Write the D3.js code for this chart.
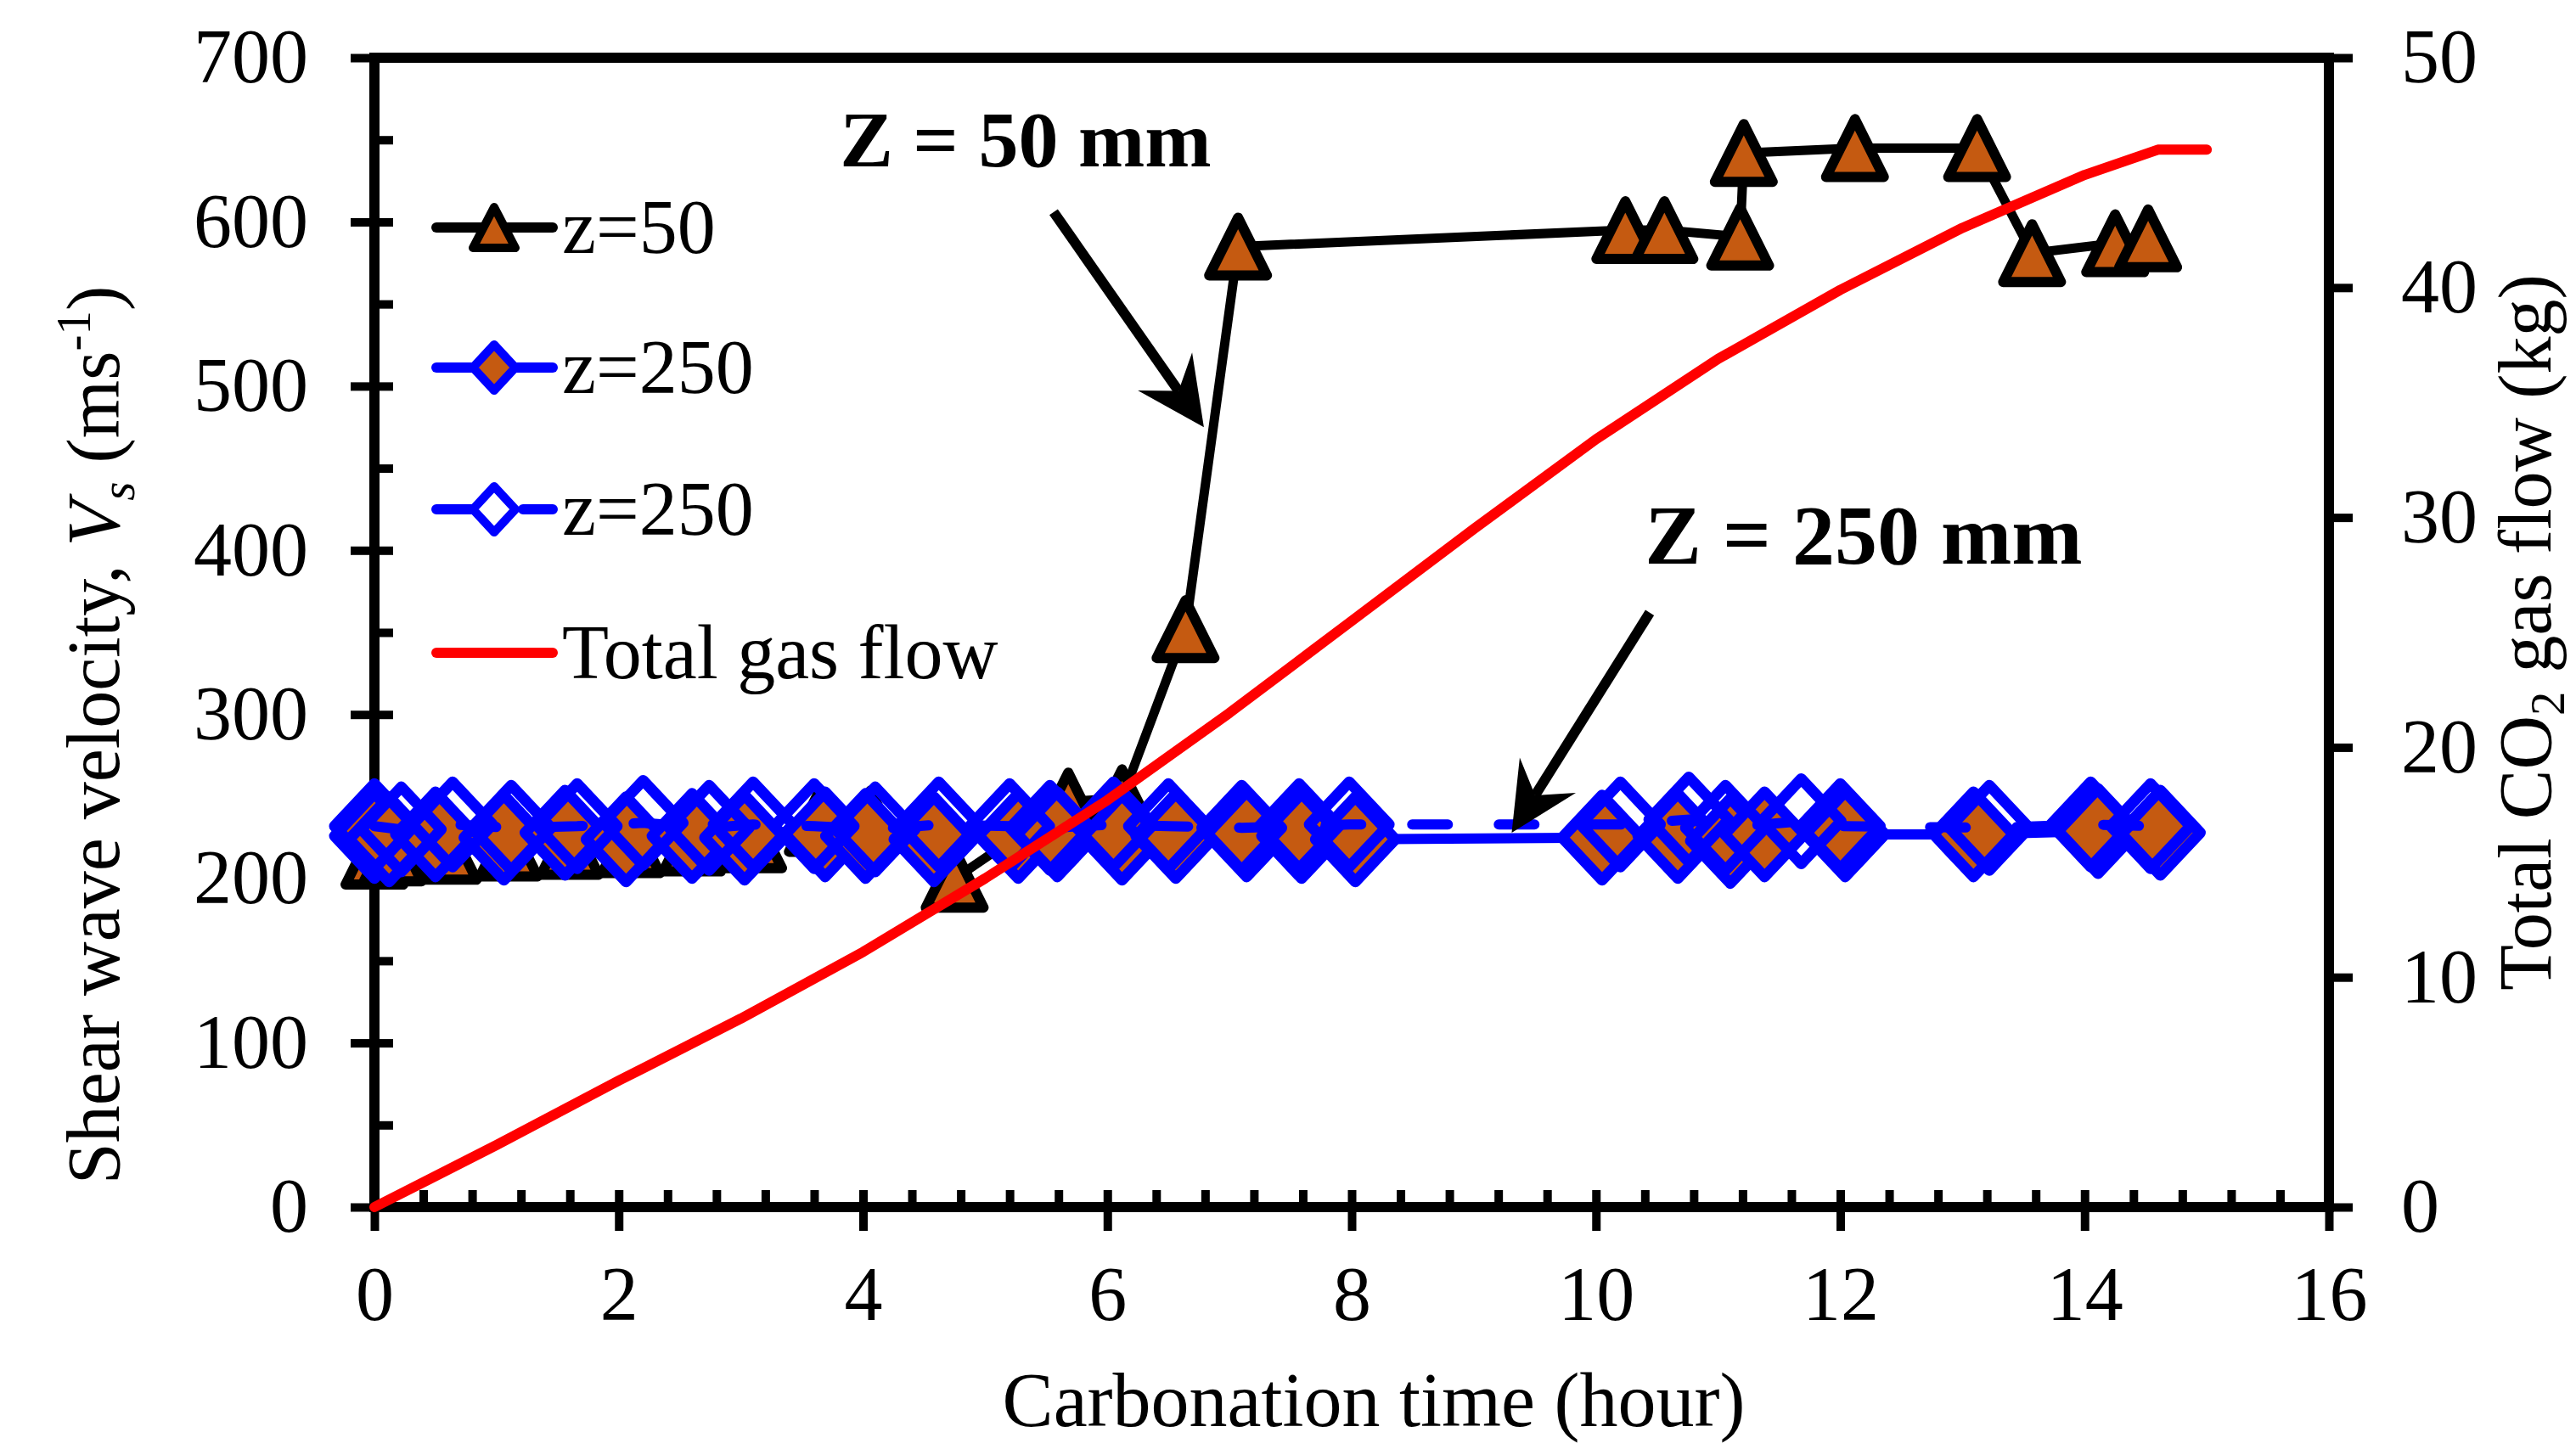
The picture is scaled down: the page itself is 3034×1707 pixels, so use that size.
<!DOCTYPE html>
<html>
<head>
<meta charset="utf-8">
<script src="https://cdnjs.cloudflare.com/ajax/libs/d3/7.8.5/d3.min.js"></script>
<style>
  body { margin: 0; background: #fff; }
  svg { display: block; font-family: "Liberation Serif", "Times New Roman", serif; }
</style>
</head>
<body>
<div class="container"></div>
<script>
// z = 50 mm (triangles)
let z50Time = [0, 0.15, 0.6, 1.1, 1.6, 2.1, 2.6, 3.1, 3.63, 4.06, 4.75, 5.68, 6.12, 6.64, 7.07, 10.24, 10.56, 11.18, 11.21, 12.12, 13.12, 13.57, 14.25, 14.52];
let z50Vs   = [214, 216, 217, 219, 220, 221, 222, 224, 234, 236, 200, 247, 249, 352, 585, 595, 595, 591, 642, 645, 645, 581, 587, 590];

// z = 250 mm, filled diamonds
let z250aTime = [0, 0.12, 0.5, 1.06, 1.56, 2.06, 2.6, 3.03, 3.69, 4.02, 4.58, 5.27, 5.59, 6.12, 6.56, 7.14, 7.59, 8.03, 10.05, 10.67, 11.1, 11.38, 12.04, 13.09, 14.11, 14.62];
let z250aVs   = [226, 224, 227, 225, 228, 224, 226, 225, 227, 226, 224, 226, 227, 225, 226, 227, 226, 224, 225, 226, 223, 227, 227, 227, 229, 228];

// z = 250 mm, open diamonds
let z250bTime = [0, 0.22, 0.64, 1.12, 1.66, 2.2, 2.74, 3.1, 3.6, 4.1, 4.62, 5.2, 5.53, 6.05, 6.5, 7.1, 7.57, 7.98, 10.2, 10.76, 11.06, 11.68, 12.0, 13.22, 14.05, 14.54];
let z250bVs   = [232, 230, 233, 231, 232, 234, 231, 233, 232, 230, 233, 232, 231, 233, 232, 231, 232, 233, 233, 236, 231, 235, 232, 231, 233, 232];

// total CO2 gas flow (kg), right axis
let gasTime = [0, 1, 2, 3, 4, 5, 6, 7, 8, 9, 10, 11, 12, 13, 14, 14.6, 15];
let gasFlow = [0, 2.7, 5.5, 8.2, 11.1, 14.3, 17.7, 21.5, 25.5, 29.5, 33.4, 36.9, 39.9, 42.6, 44.9, 46.0, 46.0];

let xTicks = [0, 2, 4, 6, 8, 10, 12, 14, 16];
let yTicks = [0, 100, 200, 300, 400, 500, 600, 700];
let y2Ticks = [0, 10, 20, 30, 40, 50];

let legendLabels = ['z=50', 'z=250', 'z=250', 'Total gas flow'];
let annoText = ['Z = 50 mm', 'Z = 250 mm'];
let annoTime = [3.81, 10.40];
let annoVs = [634, 392];
let arrowFromTime = [5.56, 10.44], arrowFromVs = [606, 362];
let arrowToTime = [6.79, 9.31], arrowToVs = [475, 228];

let width = 3034, height = 1707,
    margin = { top: 68, right: 291, bottom: 285, left: 441 },
    x0 = margin.left, x1 = width - margin.right,
    yTop = margin.top, yBot = height - margin.bottom;

let brown = '#C55A11', blue = '#0000FF', red = '#FF0000';

let svg = d3.select('.container')
  .append('svg')
  .attr('width', width)
  .attr('height', height);

let xScale = d3.scaleLinear().domain([0, 16]).range([x0, x1]);
let yScale = d3.scaleLinear().domain([0, 700]).range([yBot, yTop]);
let y2Scale = d3.scaleLinear().domain([0, 50]).range([yBot, yTop]);

function styleAxis(g) {
  g.select('.domain').remove();
  g.selectAll('line').attr('stroke', '#000').attr('stroke-width', 10);
  g.attr('font-family', '"Liberation Serif", "Times New Roman", serif').attr('font-size', 90);
  g.selectAll('text').attr('fill', '#000');
}

// outer ticks + labels
svg.append('g')
  .attr('transform', `translate(0, ${yBot})`)
  .call(d3.axisBottom(xScale).tickValues(xTicks).tickSize(28).tickPadding(41).tickSizeOuter(0))
  .call(styleAxis);
svg.append('g')
  .attr('transform', `translate(${x0}, 0)`)
  .call(d3.axisLeft(yScale).tickValues(yTicks).tickSize(28).tickPadding(50).tickSizeOuter(0))
  .call(styleAxis);
svg.append('g')
  .attr('transform', `translate(${x1}, 0)`)
  .call(d3.axisRight(y2Scale).tickValues(y2Ticks).tickSize(28).tickPadding(57).tickSizeOuter(0))
  .call(styleAxis);

// inner (minor) ticks
svg.append('g')
  .attr('transform', `translate(0, ${yBot})`)
  .call(d3.axisTop(xScale).tickValues(d3.range(0, 16.01, 0.4)).tickSize(20).tickFormat('').tickSizeOuter(0))
  .call(styleAxis);
svg.append('g')
  .attr('transform', `translate(${x0}, 0)`)
  .call(d3.axisRight(yScale).tickValues(d3.range(0, 701, 50)).tickSize(22).tickFormat('').tickSizeOuter(0))
  .call(styleAxis);

svg.append('rect')
  .attr('x', x0).attr('y', yTop)
  .attr('width', x1 - x0).attr('height', yBot - yTop)
  .attr('fill', 'none').attr('stroke', '#000').attr('stroke-width', 12);

// axis titles
svg.append('text')
  .attr('x', 1618).attr('y', 1680)
  .attr('text-anchor', 'middle')
  .attr('font-size', 90)
  .text('Carbonation time (hour)');

let yTitle = svg.append('text')
  .attr('transform', 'translate(140, 866) rotate(-90)')
  .attr('text-anchor', 'middle')
  .attr('font-size', 88);
yTitle.append('tspan').text('Shear wave velocity, ');
yTitle.append('tspan').attr('font-style', 'italic').text('V');
yTitle.append('tspan').attr('font-style', 'italic').attr('font-size', 57).attr('dy', 18).text('s');
yTitle.append('tspan').attr('dy', -18).text(' (ms');
yTitle.append('tspan').attr('font-size', 57).attr('dy', -34).text('-1');
yTitle.append('tspan').attr('dy', 34).text(')');

let y2Title = svg.append('text')
  .attr('transform', 'translate(3004, 745) rotate(-90)')
  .attr('text-anchor', 'middle')
  .attr('font-size', 88);
y2Title.append('tspan').text('Total CO');
y2Title.append('tspan').attr('font-size', 57).attr('dy', 16).text('2');
y2Title.append('tspan').attr('dy', -16).text(' gas flow (kg)');

// marker shapes
let tri = (w, h) => `M0,${-h/2}L${w/2},${h/2}L${-w/2},${h/2}Z`;
let dia = (w, h) => `M0,${-h/2}L${w/2},0L0,${h/2}L${-w/2},0Z`;

let line = d3.line().x(d => xScale(d.t)).y(d => yScale(d.v));

let z50 = z50Time.map((t, i) => ({ t: t, v: z50Vs[i] }));
let z250a = z250aTime.map((t, i) => ({ t: t, v: z250aVs[i] }));
let z250b = z250bTime.map((t, i) => ({ t: t, v: z250bVs[i] }));
let gas = gasTime.map((t, i) => ({ t: t, v: gasFlow[i] }));

// z = 50
svg.append('path').datum(z50)
  .attr('d', line)
  .attr('fill', 'none').attr('stroke', '#000').attr('stroke-width', 11).attr('stroke-linejoin', 'round');
svg.selectAll('.tri').data(z50).enter()
  .append('path').classed('tri', true)
  .attr('d', tri(68, 68))
  .attr('transform', d => `translate(${xScale(d.t)}, ${yScale(d.v)})`)
  .attr('fill', brown).attr('stroke', '#000').attr('stroke-width', 12).attr('stroke-linejoin', 'round');

// z = 250 filled
svg.append('path').datum(z250a)
  .attr('d', line)
  .attr('fill', 'none').attr('stroke', blue).attr('stroke-width', 12).attr('stroke-linejoin', 'round');
svg.selectAll('.diaA').data(z250a).enter()
  .append('path').classed('diaA', true)
  .attr('d', dia(94, 100))
  .attr('transform', d => `translate(${xScale(d.t)}, ${yScale(d.v)})`)
  .attr('fill', brown).attr('stroke', blue).attr('stroke-width', 13).attr('stroke-linejoin', 'round');

// z = 250 open
svg.append('path').datum(z250b)
  .attr('d', line)
  .attr('fill', 'none').attr('stroke', blue).attr('stroke-width', 12)
  .attr('stroke-dasharray', '42 60').attr('stroke-linecap', 'round');
svg.selectAll('.diaB').data(z250b).enter()
  .append('path').classed('diaB', true)
  .attr('d', dia(94, 100))
  .attr('transform', d => `translate(${xScale(d.t)}, ${yScale(d.v)})`)
  .attr('fill', 'none').attr('stroke', blue).attr('stroke-width', 13).attr('stroke-linejoin', 'round');

// total gas flow
svg.append('path').datum(gas)
  .attr('d', d3.line().x(d => xScale(d.t)).y(d => y2Scale(d.v)))
  .attr('fill', 'none').attr('stroke', red).attr('stroke-width', 12)
  .attr('stroke-linejoin', 'round').attr('stroke-linecap', 'round');

// annotations
annoText.forEach((s, i) => {
  svg.append('text')
    .attr('x', xScale(annoTime[i])).attr('y', yScale(annoVs[i]))
    .attr('font-weight', 'bold')
    .attr('font-size', i === 0 ? 94 : 100)
    .text(s);
});

arrowFromTime.forEach((t, i) => {
  let ax = xScale(t), ay = yScale(arrowFromVs[i]),
      bx = xScale(arrowToTime[i]), by = yScale(arrowToVs[i]);
  let len = Math.hypot(bx - ax, by - ay), ux = (bx - ax) / len, uy = (by - ay) / len,
      px = -uy, py = ux, headLen = 80, headW = 39, notch = 52;
  svg.append('line')
    .attr('x1', ax).attr('y1', ay)
    .attr('x2', bx - ux * notch).attr('y2', by - uy * notch)
    .attr('stroke', '#000').attr('stroke-width', 12);
  let pts = [
    [bx, by],
    [bx - ux * headLen + px * headW, by - uy * headLen + py * headW],
    [bx - ux * notch, by - uy * notch],
    [bx - ux * headLen - px * headW, by - uy * headLen - py * headW]
  ];
  svg.append('polygon').attr('points', pts.map(p => p.join(',')).join(' ')).attr('fill', '#000');
});

// legend
let legendY = [268, 433, 600, 769];
let lg = svg.append('g');
legendLabels.forEach((s, i) => {
  let y = legendY[i];
  let ln = lg.append('line')
    .attr('x1', 514).attr('x2', 651).attr('y1', y).attr('y2', y)
    .attr('stroke-width', 12).attr('stroke-linecap', 'round');
  if (i === 0) {
    ln.attr('stroke', '#000');
    lg.append('path').attr('d', tri(50, 48)).attr('transform', `translate(582, ${y})`)
      .attr('fill', brown).attr('stroke', '#000').attr('stroke-width', 10).attr('stroke-linejoin', 'round');
  } else if (i === 1) {
    ln.attr('stroke', blue);
    lg.append('path').attr('d', dia(50, 54)).attr('transform', `translate(582, ${y})`)
      .attr('fill', brown).attr('stroke', blue).attr('stroke-width', 10).attr('stroke-linejoin', 'round');
  } else if (i === 2) {
    ln.attr('stroke', blue).attr('stroke-dasharray', '42 60');
    lg.append('path').attr('d', dia(50, 54)).attr('transform', `translate(582, ${y})`)
      .attr('fill', '#fff').attr('stroke', blue).attr('stroke-width', 10).attr('stroke-linejoin', 'round');
  } else {
    ln.attr('stroke', red);
  }
  lg.append('text')
    .attr('x', 662).attr('y', y + 30)
    .attr('font-size', 90)
    .text(s);
});
</script>
</body>
</html>
